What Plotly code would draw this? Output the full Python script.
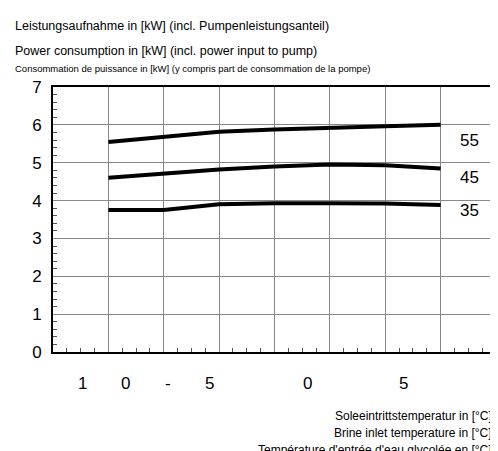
import plotly.graph_objects as go

x_pos = [1, 2, 3, 4, 5, 6, 7]
p55 = [5.55, 5.68, 5.82, 5.88, 5.93, 5.96, 6.0]
p45 = [4.6, 4.72, 4.82, 4.9, 4.95, 4.93, 4.85]
p35 = [3.75, 3.75, 3.9, 3.93, 3.93, 3.92, 3.88]
curve_labels = ["55", "45", "35"]
label_y = [5.6, 4.6, 3.75]
# garbled x tick labels as printed in the original
xtick_text = ["-", "1", "0", "-", "5", "0", "5", "1"]
xtick_pos = [-0.22, 0.54, 1.31, 2.07, 2.82, 4.59, 6.33, 8.06]

font = "Liberation Sans, Arial, sans-serif"
fig = go.Figure()
for ys in [p55, p45, p35]:
    fig.add_trace(go.Scatter(x=x_pos, y=ys, mode="lines", line=dict(color="black", width=4), showlegend=False))

for t, yv in zip(curve_labels, label_y):
    fig.add_annotation(x=7.52, y=yv, text=t, showarrow=False, font=dict(size=17, color="black"))
for t, xv in zip(xtick_text, xtick_pos):
    fig.add_annotation(x=xv, xref="x", yref="paper", y=-31 / 265, text=t, showarrow=False,
                       yanchor="middle", font=dict(size=17, color="black"))

tops = [("Leistungsaufnahme in [kW] (incl. Pumpenleistungsanteil)", 61, 12.5),
        ("Power consumption in [kW] (incl. power input to pump)", 36, 12.5),
        ("Consommation de puissance in [kW] (y compris part de consommation de la pompe)", 19, 9.5)]
for t, dy, fs in tops:
    fig.add_annotation(xref="paper", yref="paper", x=-0.09, y=1.0 + dy / 265, xanchor="left", yanchor="middle",
                       text=t, showarrow=False, font=dict(size=fs))
bottoms = ["Soleeintrittstemperatur in [°C]", "Brine inlet temperature in [°C]",
           "Température d'entrée d'eau glycolée en [°C]"]
for i, t in enumerate(bottoms):
    fig.add_annotation(xref="paper", yref="paper", x=0.995, y=-(64 + 17 * i) / 265, xanchor="right",
                       yanchor="middle", text=t, showarrow=False, font=dict(size=12))

fig.update_xaxes(range=[0, 8], dtick=1, showticklabels=False, showgrid=True, gridcolor="#888", gridwidth=1,
                 showline=True, linecolor="black", linewidth=2, mirror=True, zeroline=False,
                 minor=dict(dtick=0.25, ticks="inside", ticklen=4, tickcolor="#555", showgrid=False))
fig.update_yaxes(range=[0, 7], dtick=1, showgrid=True, gridcolor="#888", gridwidth=1,
                 showline=True, linecolor="black", linewidth=2, mirror=True, zeroline=False,
                 tickfont=dict(size=17), ticks="", ticklabelstandoff=6,
                 minor=dict(dtick=0.2, ticks="inside", ticklen=4, tickcolor="#555", showgrid=False))
fig.update_layout(width=498, height=451, margin=dict(l=45, r=8, t=79, b=107),
                  plot_bgcolor="white", paper_bgcolor="white", font=dict(family=font, color="black"))
fig.write_html("out.html")
